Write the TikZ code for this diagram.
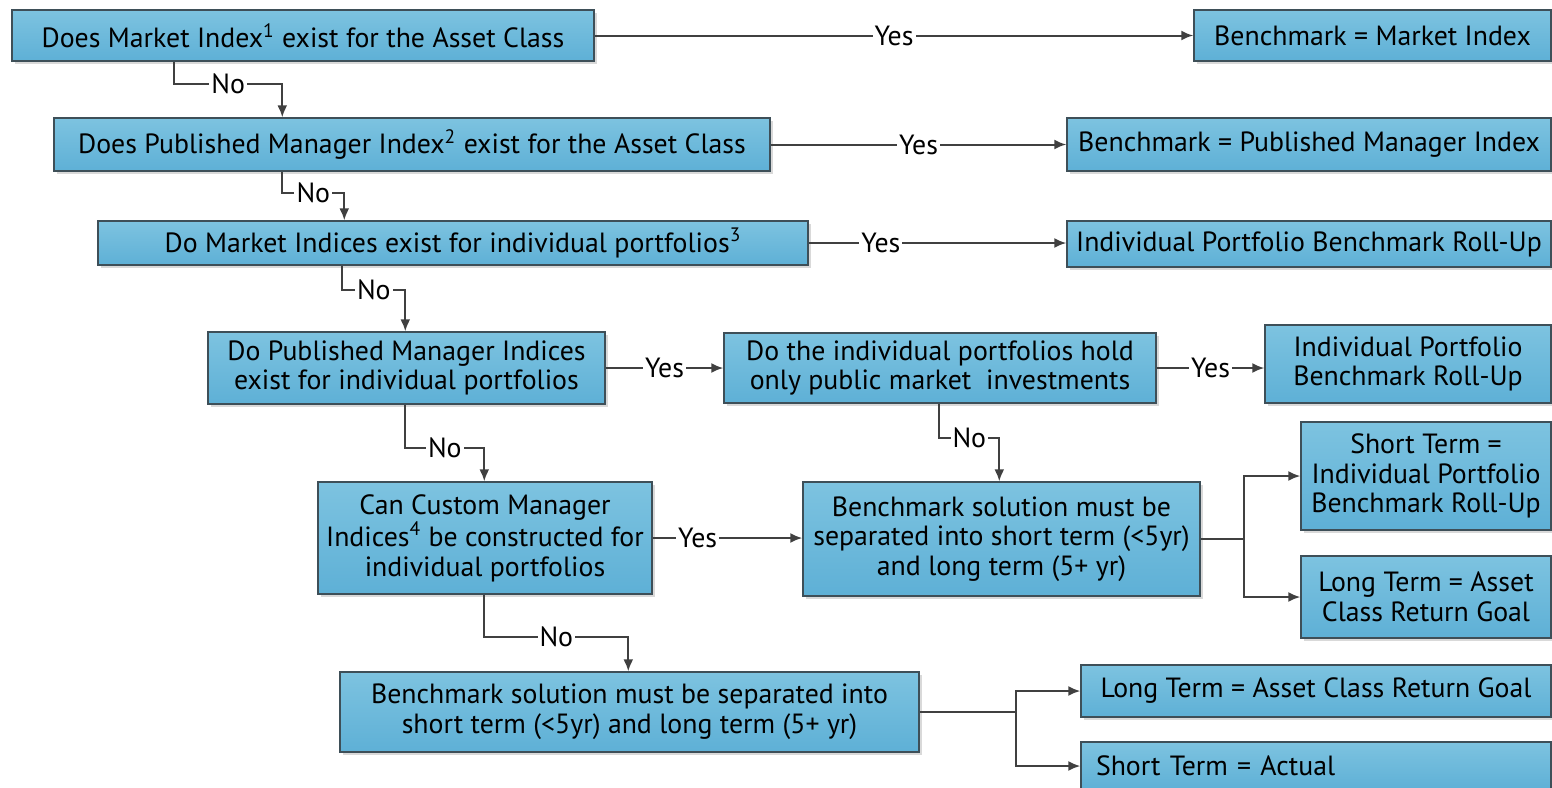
\documentclass[tikz,border=0pt]{standalone}
\usepackage{fontspec}
\setmainfont{PT Sans}
\usepackage{tikz}
\usetikzlibrary{arrows,arrows.meta,calc,shadows,positioning}

\definecolor{boxtop}{HTML}{7DC3E0}
\definecolor{boxbot}{HTML}{5EB0D6}
\definecolor{boxline}{HTML}{3E4F58}
\definecolor{wirecol}{HTML}{404040}

\begin{document}
\begin{tikzpicture}[
    x=0.5pt, y=-0.5pt,
    >={Latex[length=6pt,width=5pt]},
    font=\fontsize{13.9}{14.8}\selectfont,
    block/.style={
		rectangle,
		draw=boxline,
		line width=0.7pt,
		top color=boxtop,
		bottom color=boxbot,
		align=center,
		inner sep=2pt,
		drop shadow={shadow xshift=1.5pt, shadow yshift=-1.5pt, fill=black!15, opacity=1}
	},
	wire/.style={
		draw=wirecol,
		line width=1pt,
		->
	},
	lbl/.style={
		fill=white,
		inner sep=1pt
	}
  ]
  \useasboundingbox (0,0) rectangle (1552,787);

    % We start by placing the blocks
  \node [block, minimum width=291pt, minimum height=25.5pt] (q1) at (303,35.5)
 {Does Market Index\textsuperscript{1} exist for the Asset Class};
  \node [block, minimum width=178.5pt, minimum height=25.5pt] (r1) at (1372.5,35.5)
 {Benchmark = Market Index};

  \node [block, minimum width=358pt, minimum height=26.5pt] (q2) at (412,144.5)
 {Does Published Manager Index\textsuperscript{2} exist for the Asset Class};
  \node [block, minimum width=242pt, minimum height=26.5pt] (r2) at (1309,144.5)
 {Benchmark = Published Manager Index};

  \node [block, minimum width=355pt, minimum height=22pt] (q3) at (453,243)
 {Do Market Indices exist for individual portfolios\textsuperscript{3}};
  \node [block, minimum width=242pt, minimum height=23pt] (r3) at (1309,244)
 {Individual Portfolio Benchmark Roll-Up};

  \node [block, minimum width=198.5pt, minimum height=36pt] (q4) at (406.5,368)
 {Do Published Manager Indices\\exist for individual portfolios};
  \node [block, minimum width=216pt, minimum height=35pt] (q5) at (940,368)
 {Do the individual portfolios hold\\only public market\ \ investments};
  \node [block, minimum width=143pt, minimum height=39pt] (r4) at (1408,364)
 {Individual Portfolio\\Benchmark Roll-Up};

  \node [block, minimum width=167pt, minimum height=56pt] (q6) at (485,538)
 {Can Custom Manager\\Indices\textsuperscript{4} be constructed for\\individual portfolios};
  \node [block, minimum width=198.5pt, minimum height=57pt] (s1) at (1001.5,539)
 {Benchmark solution must be\\separated into short term (<5yr)\\and long term (5+ yr)};
  \node [block, minimum width=125pt, minimum height=54pt] (r5) at (1426,476)
 {Short Term =\\Individual Portfolio\\Benchmark Roll-Up};
  \node [block, minimum width=125pt, minimum height=41pt] (r6) at (1426,597)
 {Long Term = Asset\\Class Return Goal};

  \node [block, minimum width=289.5pt, minimum height=40pt] (s2) at (629.5,712)
 {Benchmark solution must be separated into\\short term (<5yr) and long term (5+ yr)};
  \node [block, minimum width=235pt, minimum height=26pt] (r7) at (1316,691)
 {Long Term = Asset Class Return Goal};
  \node [block, minimum width=235pt, minimum height=24pt, text width=220pt, align=left] (r8) at (1316,766)
 {Short Term = Actual};

 % Yes branches
 \draw [wire] (q1) -- node [lbl] {Yes} (r1);
 \draw [wire] (q2) -- node [lbl] {Yes} (r2);
 \draw [wire] (q3.east) -- node [lbl, pos=0.28] {Yes} (q3.east -| r3.west);
 \draw [wire] (q4) -- node [lbl] {Yes} (q5);
 \draw [wire] (q5.east) -- node [lbl] {Yes} (q5.east -| r4.west);
 \draw [wire] (q6.east) -- node [lbl, pos=0.3] {Yes} (q6.east -| s1.west);

 % No branches
 \draw [wire] ($(q1.south west)+(163,0)$) -- ++(0,22) -| node [lbl, pos=0.25] {No} ($(q2.north west)+(229,0)$);
 \draw [wire] ($(q2.south west)+(229,0)$) -- ++(0,21) -| node [lbl, pos=0.25] {No} ($(q3.north west)+(247,0)$);
 \draw [wire] ($(q3.south west)+(245,0)$) -- ++(0,24) -| node [lbl, pos=0.25] {No} ($(q4.north west)+(198,0)$);
 \draw [wire] ($(q4.south west)+(198,0)$) -- ++(0,43) -| node [lbl, pos=0.25] {No} ($(q6.north west)+(167,0)$);
 \draw [wire] ($(q5.south west)+(216,0)$) -- ++(0,34) -| node [lbl, pos=0.25] {No} ($(s1.north west)+(197,0)$);
 \draw [wire] ($(q6.south west)+(167,0)$) -- ++(0,42) -| node [lbl, pos=0.25] {No} ($(s2.north west)+(289,0)$);

 % split into short and long term
 \draw [wire] (s1.east) -- ++(43,0) coordinate (s1fork) |- (r5.west);
 \draw [wire] (s1fork) |- (r6.west);
 \draw [wire] (s2.east) -- ++(96,0) coordinate (s2fork) |- (r7.west);
 \draw [wire] (s2fork) |- (r8.west);

\end{tikzpicture}
\end{document}
